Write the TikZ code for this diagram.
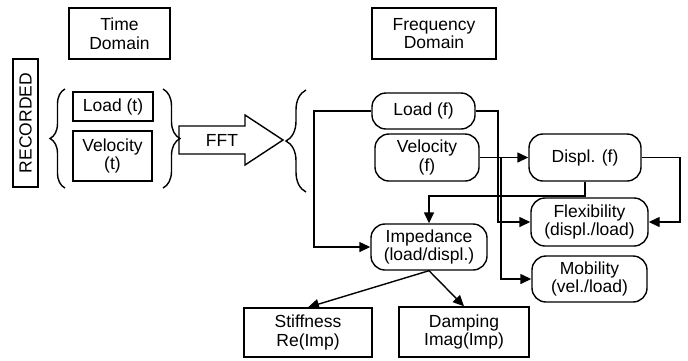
\documentclass[tikz,border=0pt]{standalone}
\usepackage{fontspec}
\setmainfont{Liberation Sans}
\usetikzlibrary{arrows.meta,decorations.pathreplacing,calc}
\begin{document}
\begin{tikzpicture}[x=1pt,y=-1pt,
  every node/.style={font=\fontsize{17.5}{18.5}\selectfont, align=center, inner sep=0pt},
  box/.style={draw, line width=1.4pt, rectangle},
  rbox/.style={draw, line width=1.4pt, rectangle, rounded corners=14pt},
  arr/.style={line width=1.4pt, -{Triangle[length=11pt,width=10pt]}},
  ln/.style={line width=1.4pt},
  brc/.style={line width=1.4pt, decorate},
]
\useasboundingbox (0,0) rectangle (688,360);
% headers
\node[box, minimum width=101pt, minimum height=51pt] (timedom) at (119.5,33.5) {Time\\Domain};
\node[box, minimum width=124pt, minimum height=51pt] (freqdom) at (434,33.5) {Frequency\\Domain};
\node[box, rotate=90, minimum width=128pt, minimum height=25pt] (recorded) at (25.5,123) {RECORDED};
% time domain
\node[box, minimum width=80pt, minimum height=29pt] (loadt) at (113,106.5) {Load (t)};
\node[box, minimum width=79pt, minimum height=50pt] (velt) at (112.5,156) {Velocity\\(t)};
% braces
\draw[brc, decoration={brace, amplitude=15pt}] (65,188) -- (65,89);
\draw[brc, decoration={brace, amplitude=17pt}] (163,89) -- (163,188);
\draw[brc, decoration={brace, amplitude=20pt}] (306,192) -- (306,90);
% FFT arrow
\draw[ln] (179,126) -- (245,126) -- (245,115) -- (283,140) -- (245,165) -- (245,154) -- (179,154) -- cycle;
\node (fftlabel) at (222,140) {FFT};
% frequency domain
\node[rbox, minimum width=103pt, minimum height=36pt] (loadf) at (423.5,111) {Load (f)};
\node[rbox, minimum width=104pt, minimum height=47pt] (velf) at (427,157.5) {Velocity\\(f)};
\node[rbox, minimum width=112pt, minimum height=47pt] (displf) at (585,157.5) {Displ. (f)};
\node[rbox, minimum width=117pt, minimum height=48pt] (flex) at (589.5,222) {Flexibility\\(displ./load)};
\node[rbox, minimum width=116pt, minimum height=46pt] (imped) at (429,247) {Impedance\\(load/displ.)};
\node[rbox, minimum width=115pt, minimum height=46pt] (mobil) at (589.5,279) {Mobility\\(vel./load)};
\node[box, minimum width=128pt, minimum height=49pt] (stiff) at (308,332.5) {Stiffness\\Re(Imp)};
\node[box, minimum width=130pt, minimum height=50pt] (damp) at (464,332) {Damping\\Imag(Imp)};
% connector coordinates
\coordinate (c1) at (314,111);
\coordinate (c2) at (498,111);
\coordinate (c3) at (501,157.5);
\coordinate (c4) at (680,157.5);
\coordinate (c5) at (585,196);
% connectors
\draw[arr] (loadf.west) -- (c1) |- (imped.west);
\draw[arr] (loadf.east) -- (c2) |- (flex.west);
\draw[arr] (velf.east) -- (displf.west);
\draw[arr] (velf.east) -- (c3) |- (mobil.west);
\draw[arr] (displf.east) -- (c4) |- (flex.east);
\draw[arr] (displf.south) -- (c5) -| (imped.north);
\draw[arr] (imped.south) -- (stiff.north);
\draw[arr] (imped.south) -- (damp.north);
\end{tikzpicture}
\end{document}
